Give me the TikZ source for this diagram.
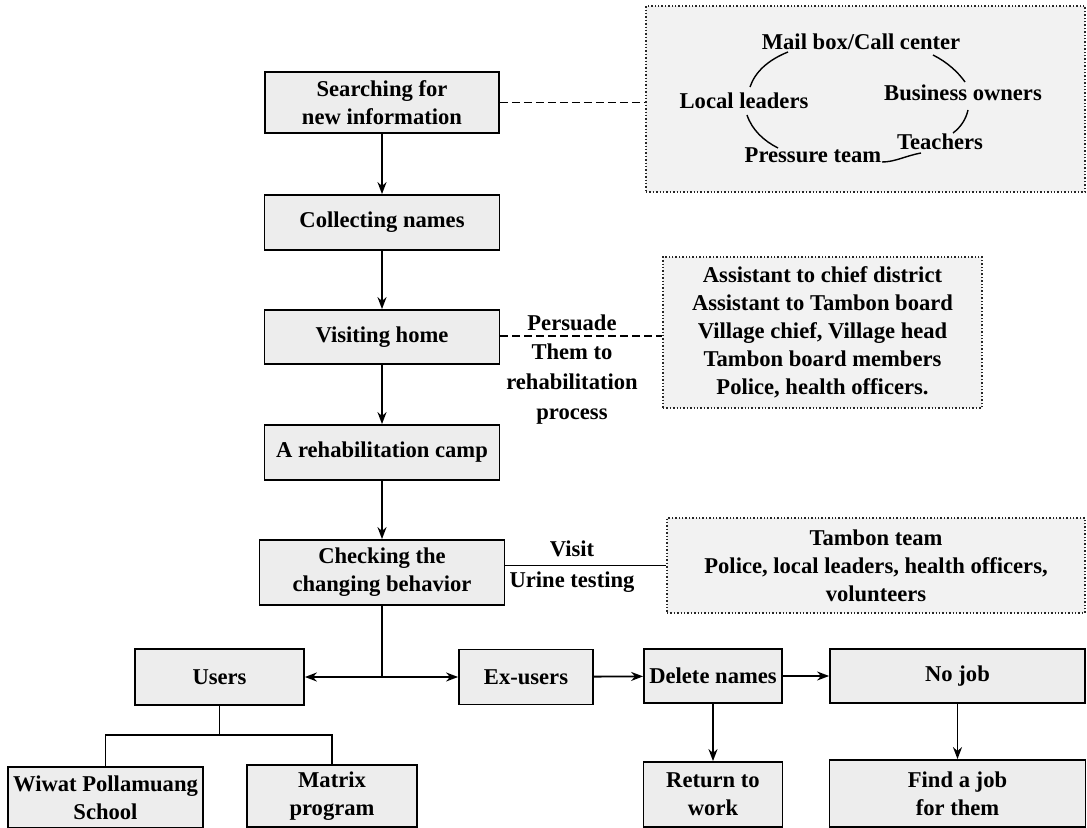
\documentclass[tikz,border=0pt]{standalone}
\usepackage{fontspec}
\setmainfont{Liberation Serif}
\usetikzlibrary{arrows.meta}
\begin{document}
\begin{tikzpicture}[x=0.5pt,y=-0.5pt,
  txt/.style={font=\bfseries\fontsize{11.3}{14}\selectfont, align=center, inner sep=0pt},
  box/.style={txt, draw=black, line width=0.9pt, fill=gray!14},
  dbox/.style={txt, draw=black!85, densely dotted, line width=0.7pt, fill=gray!10},
  arr/.style={-{Stealth[length=6pt,width=4.5pt]}, line width=0.9pt},
  link/.style={line width=0.9pt},
  dlink/.style={line width=0.9pt, dash pattern=on 4pt off 2pt},
  cyc/.style={line width=0.7pt}]
\useasboundingbox (0,0) rectangle (1087,828);
% main column
\node[box, minimum width=117pt, minimum height=30.5pt] (search) at (382,102.5) {Searching for\\new information};
\node[box, minimum width=117.5pt, minimum height=27.5pt] (collect) at (382,222.5) {Collecting names};
\node[box, minimum width=117.5pt, minimum height=27pt] (visit) at (382,337) {Visiting home};
\node[box, minimum width=117.5pt, minimum height=27.5pt] (camp) at (382,452.5) {A rehabilitation camp};
\node[box, minimum width=122.5pt, minimum height=32.5pt] (check) at (382,572.5) {Checking the\\changing behavior};
% bottom row
\node[box, minimum width=84.5pt, minimum height=28pt] (users) at (219.5,677) {Users};
\node[box, minimum width=67pt, minimum height=27.5pt] (exusers) at (526,677) {Ex-users};
\node[box, minimum width=69pt, minimum height=27pt] (delete) at (713,676) {Delete names};
\node[box, minimum width=127.5pt, minimum height=27pt] (nojob) at (957.5,676) {No job};
\node[box, minimum width=69.5pt, minimum height=32.5pt] (return) at (713,794.5) {Return to\\work};
\node[box, minimum width=128pt, minimum height=33.5pt] (findjob) at (957.5,793.5) {Find a job\\for them};
\node[box, minimum width=97.5pt, minimum height=30.5pt] (wiwat) at (105.5,797.5) {Wiwat Pollamuang\\School};
\node[box, minimum width=85pt, minimum height=31pt] (matrix) at (332,796) {Matrix\\program};
% dotted boxes
\node[dbox, minimum width=219.5pt, minimum height=93pt] (info) at (865.5,99) {};
\node[dbox, minimum width=159.5pt, minimum height=75.5pt] (assist) at (822.5,332.5) {Assistant to chief district\\Assistant to Tambon board\\Village chief, Village head\\Tambon board members\\Police, health officers.};
\node[dbox, minimum width=209pt, minimum height=47.5pt] (tambon) at (876,565.5) {Tambon team\\Police, local leaders, health officers,\\volunteers};
% cycle inside info box
\node[txt] (mail) at (861,42) {Mail box/Call center};
\node[txt] (local) at (744,101) {Local leaders};
\node[txt] (bus) at (963,93) {Business owners};
\node[txt] (teach) at (940,142) {Teachers};
\node[txt] (press) at (813,155) {Pressure team};
\draw[cyc] (788,52) .. controls (768,60) and (755,72) .. (750,87);
\draw[cyc] (933,55) .. controls (947,62) and (958,72) .. (965,82);
\draw[cyc] (968,110) .. controls (966,119) and (961,127) .. (953,133);
\draw[cyc] (747,115) .. controls (752,130) and (764,141) .. (778,148);
\draw[cyc] (882,162) .. controls (895,162) and (905,156) .. (921,153);
% main arrows
\draw[arr] (search) -- (collect);
\draw[arr] (collect) -- (visit);
\draw[arr] (visit) -- (camp);
\draw[arr] (camp) -- (check);
\coordinate (j) at (check.south |- users.east);
\draw[link] (check.south) -- (j);
\draw[arr] (j) -- (users.east);
\draw[arr] (j) -- (exusers.west);
\draw[arr] (exusers) -- (delete);
\draw[arr] (delete) -- (nojob);
\draw[arr] (delete) -- (return);
\draw[arr] (nojob) -- (findjob);
\coordinate (ut) at (users.south |- 0,735);
\draw[link] (users.south) -- (ut);
\draw[link] (wiwat.north) |- (ut) -| (matrix.north);
% side links
\draw[dlink] (search.east) -- (search.east -| info.west);
\coordinate (va) at (visit.east |- 0,336);
\draw[dlink] (va) -- (va -| assist.west);
\node[txt, anchor=south] (pers) at (572,331) {Persuade};
\node[txt, anchor=north, font=\bfseries\fontsize{11.3}{15}\selectfont] (them) at (572,343) {Them to\\rehabilitation\\process};
\coordinate (ca) at (check.east |- tambon.west);
\draw[link] (ca) -- (tambon.west);
\node[txt, anchor=south] (visitl) at (572,557) {Visit};
\node[txt, anchor=north] (urine) at (572,571) {Urine testing};
\end{tikzpicture}
\end{document}
